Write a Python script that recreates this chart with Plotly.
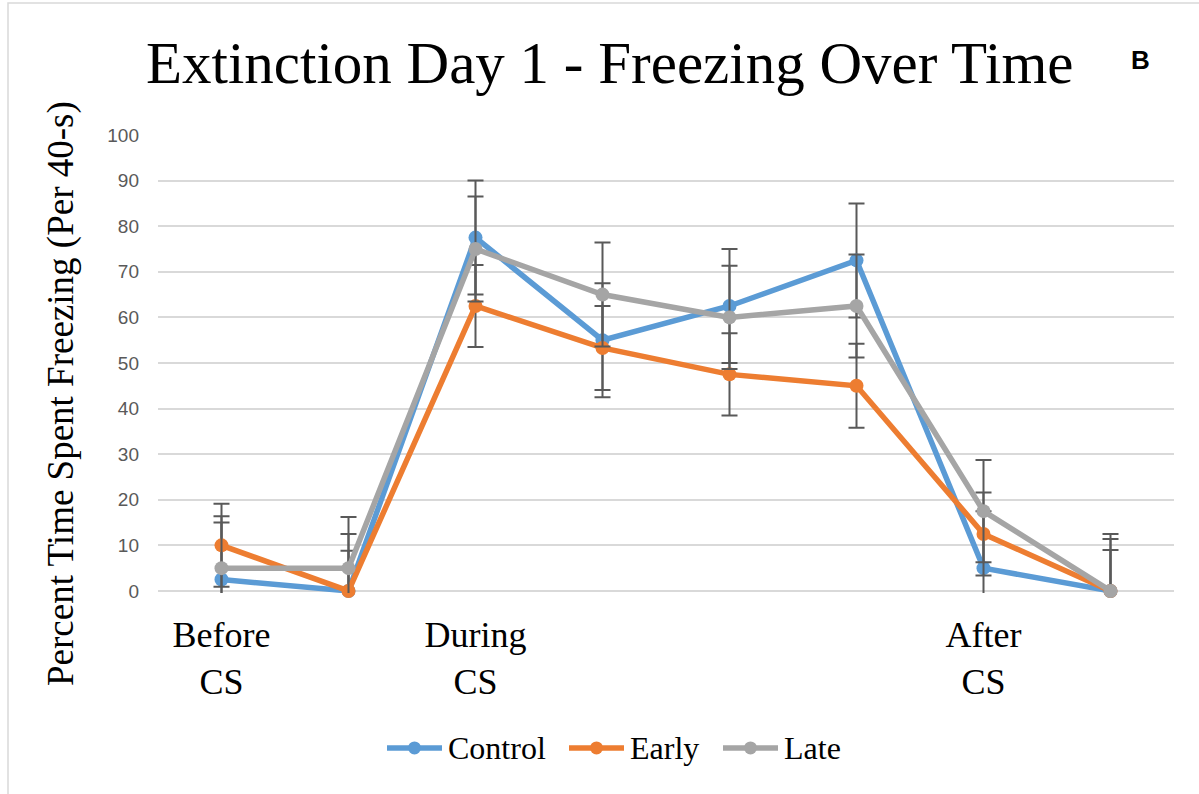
import plotly.graph_objects as go

# ---- data ----
categories = [0, 1, 2, 3, 4, 5, 6, 7]
tick_positions = [0, 2, 6]
tick_labels = ["Before<br>CS", "During<br>CS", "After<br>CS"]

control = [2.5, 0, 77.5, 55, 62.5, 72.5, 5, 0]
early = [10, 0, 62.5, 53.3, 47.5, 45, 12.5, 0]
late = [5, 5, 75, 65, 60, 62.5, 17.5, 0]

control_err = [12.5, 12.5, 12.5, 12.5, 12.5, 12.5, 12.5, 12.5]
early_err = [9.1, 8.8, 9.0, 9.2, 9.0, 9.2, 9.1, 9.0]
late_err = [11.4, 11.2, 11.5, 11.4, 11.3, 11.3, 11.2, 11.4]

series_names = ["Control", "Early", "Late"]
colors = ["#5B9BD5", "#ED7D31", "#A5A5A5"]

# ---- layout geometry (pixels) ----
W, H = 1199, 794
L, R = 158, 1174
T = 135
ymin, ymax = -0.45, 100
px_per_unit = 4.56
plot_h = (ymax - ymin) * px_per_unit
B = T + plot_h
PW = R - L


def px_x(px):
    return (px - L) / PW


def px_y(py):
    return (B - py) / plot_h


fig = go.Figure()
for name, vals, errs, col in zip(series_names, [control, early, late],
                                 [control_err, early_err, late_err], colors):
    fig.add_trace(go.Scatter(
        x=categories, y=vals, name=name, mode="lines+markers",
        line=dict(color=col, width=5.5),
        marker=dict(color=col, size=14),
        cliponaxis=False, showlegend=False,
        error_y=dict(type="data", array=errs, symmetric=True,
                     color="#595959", thickness=2, width=8),
    ))

serif = "Liberation Serif, Times New Roman, serif"

annotations = [
    dict(text="Extinction Day 1 - Freezing Over Time", xref="paper", yref="paper",
         x=px_x(609), y=px_y(63), xanchor="center", yanchor="middle",
         showarrow=False, font=dict(family=serif, size=59, color="black")),
    dict(text="<b>B</b>", xref="paper", yref="paper",
         x=px_x(1140), y=px_y(60), xanchor="center", yanchor="middle",
         showarrow=False, font=dict(family="Liberation Sans, Arial, sans-serif",
                                    size=26, color="black")),
    dict(text="Percent Time Spent Freezing (Per 40-s)", xref="paper", yref="paper",
         x=px_x(61), y=px_y(394), xanchor="center", yanchor="middle",
         textangle=-90, showarrow=False,
         font=dict(family=serif, size=37, color="black")),
]
shapes = [
    dict(type="rect", xref="paper", yref="paper",
         x0=px_x(8), x1=px_x(W + 20), y0=px_y(3), y1=px_y(H + 20),
         line=dict(color="#D9D9D9", width=1.5), fillcolor="rgba(0,0,0,0)",
         layer="below"),
]

# legend (drawn to match the reference's long keys)
legend_line_start = [387, 569, 723]
key_len = 55
legend_y = 748
for name, col, x0 in zip(series_names, colors, legend_line_start):
    shapes.append(dict(type="line", xref="paper", yref="paper",
                       x0=px_x(x0), x1=px_x(x0 + key_len),
                       y0=px_y(legend_y), y1=px_y(legend_y),
                       line=dict(color=col, width=5.5)))
    cx = x0 + key_len / 2
    r = 6.5
    shapes.append(dict(type="circle", xref="paper", yref="paper",
                       x0=px_x(cx - r), x1=px_x(cx + r),
                       y0=px_y(legend_y - r), y1=px_y(legend_y + r),
                       line=dict(color=col, width=0), fillcolor=col))
    annotations.append(dict(text=name, xref="paper", yref="paper",
                            x=px_x(x0 + key_len + 4), y=px_y(legend_y),
                            xanchor="left", yanchor="middle", showarrow=False,
                            font=dict(family=serif, size=32, color="black")))

fig.update_layout(
    width=W, height=H,
    margin=dict(l=L, r=W - R, t=T, b=H - B),
    paper_bgcolor="white", plot_bgcolor="white",
    showlegend=False,
    xaxis=dict(range=[-0.5, 7.5], tickmode="array", tickvals=tick_positions,
               ticktext=tick_labels, showgrid=False, showline=False,
               zeroline=False, ticks="", ticklabelstandoff=17,
               tickfont=dict(family=serif, size=36, color="black")),
    yaxis=dict(range=[ymin, ymax], tickmode="linear", tick0=0, dtick=10,
               showgrid=True, gridcolor="#D9D9D9", gridwidth=1.5,
               zeroline=True, zerolinecolor="#D9D9D9", zerolinewidth=1.5,
               showline=False, ticks="", ticklabelstandoff=18,
               tickfont=dict(family="Liberation Sans, Arial, sans-serif",
                             size=19, color="#595959")),
    annotations=annotations,
    shapes=shapes,
)

fig.write_html("out.html")
